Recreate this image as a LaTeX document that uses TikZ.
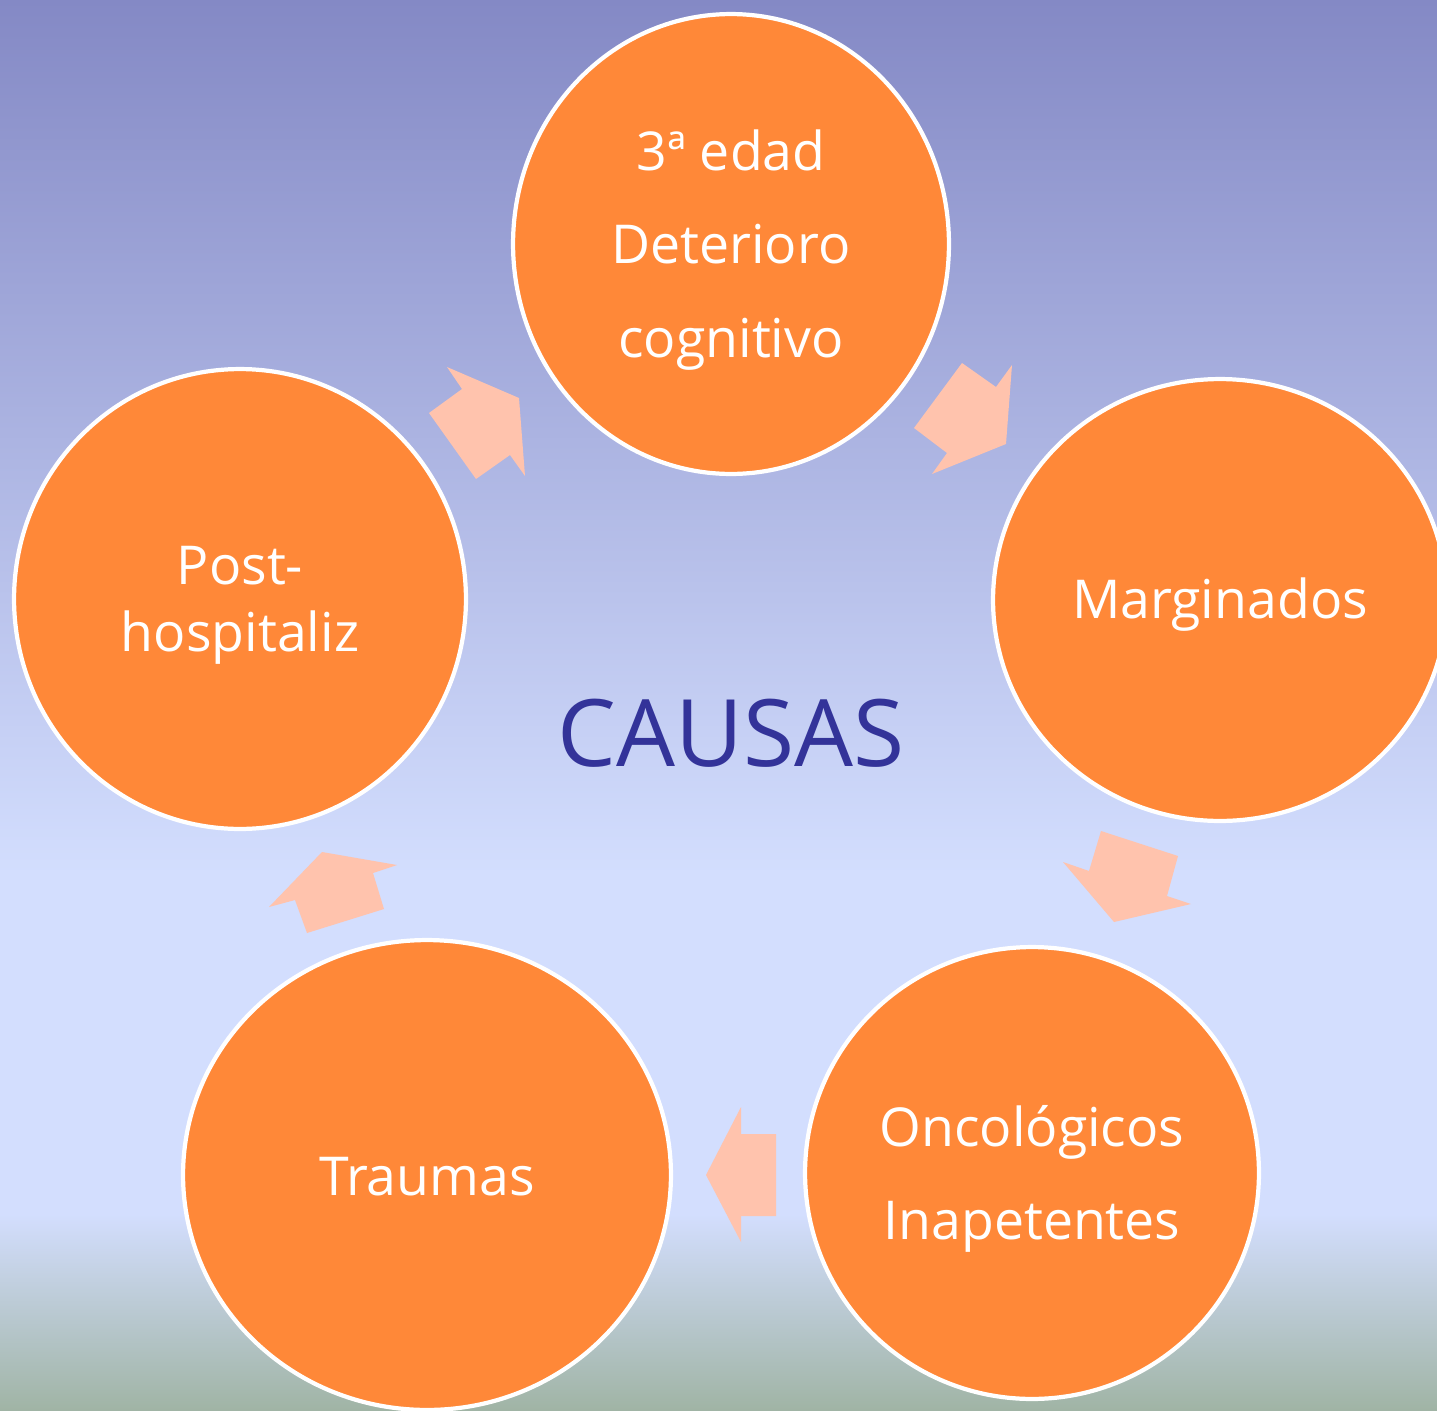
\documentclass[tikz,border=0pt]{standalone}
\usepackage{fontspec}
\setmainfont{Open Sans}
\usetikzlibrary{shapes.geometric}
\definecolor{bgtop}{RGB}{132,137,197}
\definecolor{bgmid}{RGB}{211,222,254}
\definecolor{bgbot}{RGB}{160,180,165}
\definecolor{orangefill}{RGB}{255,136,56}
\definecolor{peach}{RGB}{255,195,173}
\definecolor{titleblue}{RGB}{51,51,153}
\tikzset{
  cause/.style={ellipse, draw=white, line width=2.4pt, fill=orangefill, inner sep=0pt},
  causetext/.style={text=white, align=center, inner sep=0pt, font=\fontsize{30.5}{53}\selectfont},
  blockarrow/.style={fill=peach, draw=none},
}
\begin{document}
\begin{tikzpicture}[x=0.02cm,y=0.02cm]
\useasboundingbox (0,0) rectangle (1437,-1410);
% background
\shade[top color=bgtop, bottom color=bgmid] (0,0) rectangle (1437,-875);
\fill[bgmid] (0,-874) rectangle (1437,-1215);
\shade[top color=bgmid, bottom color=bgbot] (0,-1214) rectangle (1437,-1410);
% circles
\node[cause, minimum width=8.72cm, minimum height=9.2cm] (edad) at (731,-244) {};
\node[cause, minimum width=9.08cm, minimum height=8.84cm] (marg) at (1220,-600) {};
\node[cause, minimum width=9.08cm, minimum height=9.04cm] (onco) at (1032,-1173) {};
\node[cause, minimum width=9.76cm, minimum height=9.4cm] (trauma) at (427,-1175) {};
\node[cause, minimum width=9.04cm, minimum height=9.2cm] (post) at (240,-599) {};
% texts
\node[causetext] (edadtxt) at ([yshift=-0.12cm]edad.center) {3ª edad\\Deterioro\\cognitivo};
\node[causetext] (margtxt) at ([yshift=-0.1cm]marg.center) {Marginados};
\node[causetext] (oncotxt) at ([yshift=-0.12cm]onco.center) {Oncológicos\\Inapetentes};
\node[causetext] (traumatxt) at ([yshift=-0.04cm]trauma.center) {Traumas};
\node[causetext, font=\fontsize{30.5}{38}\selectfont] (posttxt) at ([yshift=-0.12cm]post.center) {Post-\\hospitaliz};
% title
\node[text=titleblue, font=\fontsize{53}{60}\selectfont] (causas) at (731,-733) {CAUSAS};
% block arrows
\fill[blockarrow] (447,-367) -- (519,-398) -- (525,-476) -- (510,-455) -- (476,-479) -- (429,-413) -- (462,-389) -- cycle;
\fill[blockarrow] (962,-363) -- (996,-387) -- (1012,-365) -- (1006,-444) -- (932,-474) -- (947,-453) -- (914,-428) -- cycle;
\fill[blockarrow] (1101,-831) -- (1178,-856) -- (1167,-896) -- (1191,-904) -- (1114,-922) -- (1063,-862) -- (1089,-871) -- cycle;
\fill[blockarrow] (741,-1107) -- (741,-1134) -- (776,-1134) -- (776,-1216) -- (741,-1216) -- (741,-1242) -- (706,-1175) -- cycle;
\fill[blockarrow] (322,-852) -- (397,-865) -- (373,-873) -- (384,-909) -- (307,-933) -- (295,-900) -- (269,-907) -- cycle;
\end{tikzpicture}
\end{document}
